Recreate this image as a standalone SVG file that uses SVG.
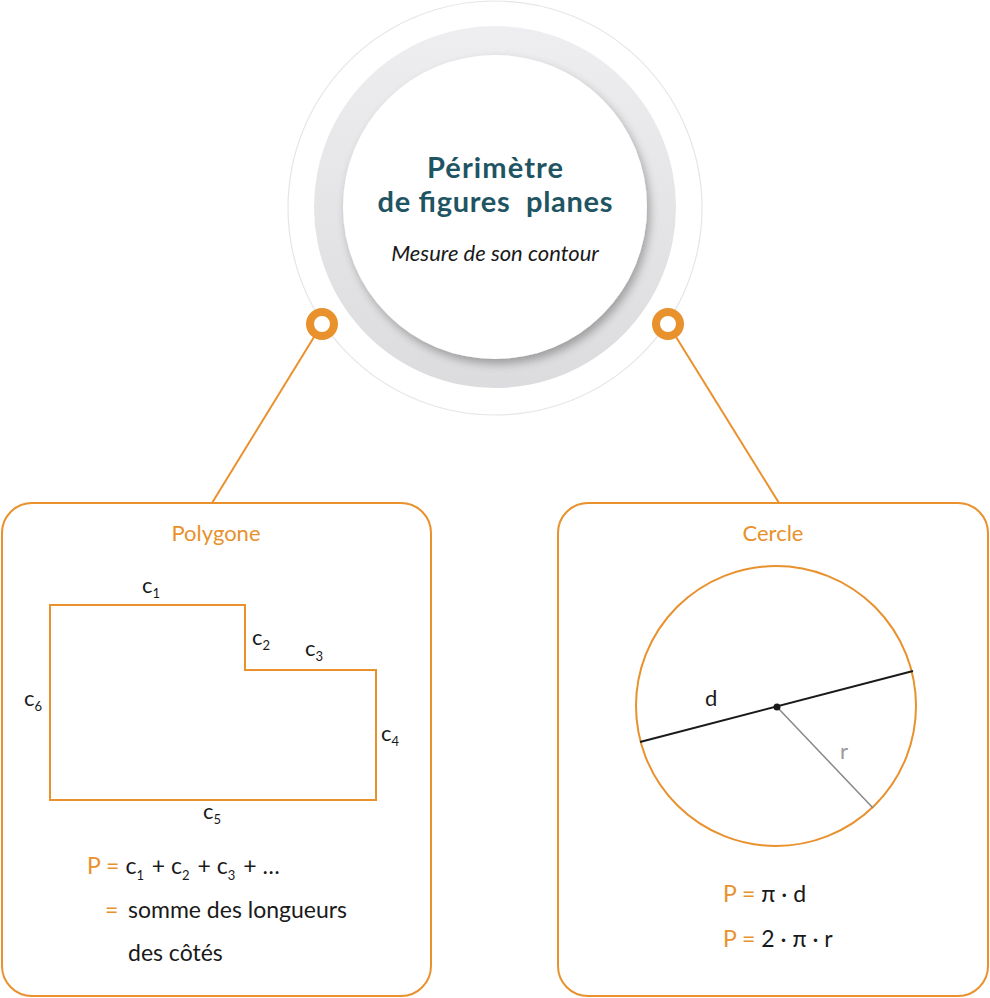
<svg xmlns="http://www.w3.org/2000/svg" width="990" height="998" viewBox="0 0 990 998">
<style>
.or{fill:#e8912d}
.k{fill:#1a1a1a}
.t{font-family:Lato,"Open Sans",sans-serif}
.lbl{font-size:22px}
.sub{font-size:13px}
.frm{font-size:23px}
.box{fill:#fff;stroke:#e8912d;stroke-width:2}
.con{stroke:#e8912d;stroke-width:2;fill:none}
</style>
<defs>
<linearGradient id="ring" x1="0" y1="0" x2="0" y2="1">
<stop offset="0" stop-color="#eeeef0"/>
<stop offset="1" stop-color="#dcdcde"/>
</linearGradient>
<filter id="sh" x="-20%" y="-20%" width="140%" height="140%">
<feGaussianBlur in="SourceAlpha" stdDeviation="5"/>
<feOffset dx="3" dy="5"/>
<feComponentTransfer><feFuncA type="linear" slope="0.3"/></feComponentTransfer>
<feMerge><feMergeNode/><feMergeNode in="SourceGraphic"/></feMerge>
</filter>
</defs>
<rect width="990" height="998" fill="#fff"/>
<g id="connectors">
<line class="con" x1="322" y1="324" x2="212" y2="503"/>
<line class="con" x1="668" y1="324" x2="779" y2="503"/>
</g>
<g id="center">
<circle cx="495" cy="208" r="207" fill="#fff" stroke="#e6e6e6" stroke-width="1.2"/>
<circle cx="495" cy="207" r="181" fill="url(#ring)"/>
<circle cx="495" cy="207" r="152" fill="#fff" filter="url(#sh)"/>
<text class="t" x="495" y="178" text-anchor="middle" font-size="29" font-weight="bold" fill="#1f5563" textLength="136">Périmètre</text>
<text class="t" x="495" y="212" text-anchor="middle" font-size="29" font-weight="bold" fill="#1f5563" style="white-space:pre" textLength="235">de figures  planes</text>
<text class="t" x="495" y="261" text-anchor="middle" font-size="22" font-style="italic" fill="#1a1a1a">Mesure de son contour</text>
<circle cx="322" cy="324" r="12" fill="#fff" stroke="#e8912d" stroke-width="8"/>
<circle cx="668" cy="324" r="12" fill="#fff" stroke="#e8912d" stroke-width="8"/>
</g>
<g id="polygone">
<rect class="box" x="2" y="503" width="429" height="493" rx="30"/>
<text class="t or lbl" x="216" y="541" text-anchor="middle">Polygone</text>
<polygon points="50,605 245,605 245,670 376,670 376,800 50,800" fill="none" stroke="#e8912d" stroke-width="2"/>
<text class="t k lbl" x="142" y="593">c<tspan class="sub" dy="5">1</tspan></text>
<text class="t k lbl" x="252" y="645">c<tspan class="sub" dy="5">2</tspan></text>
<text class="t k lbl" x="305" y="656">c<tspan class="sub" dy="5">3</tspan></text>
<text class="t k lbl" x="24" y="706">c<tspan class="sub" dy="5">6</tspan></text>
<text class="t k lbl" x="381" y="741">c<tspan class="sub" dy="5">4</tspan></text>
<text class="t k lbl" x="203" y="819">c<tspan class="sub" dy="5">5</tspan></text>
<text class="t frm" x="87" y="874" style="white-space:pre"><tspan class="or">P =</tspan><tspan class="k" dx="6">c</tspan><tspan class="k sub" dy="6">1</tspan><tspan class="k" dy="-6" dx="2"> + c</tspan><tspan class="k sub" dy="6">2</tspan><tspan class="k" dy="-6" dx="2"> + c</tspan><tspan class="k sub" dy="6">3</tspan><tspan class="k" dy="-6" dx="2"> + …</tspan></text>
<text class="t frm or" x="105" y="918">=</text>
<text class="t frm k" x="128" y="918">somme des longueurs</text>
<text class="t frm k" x="128" y="961">des côtés</text>
</g>
<g id="cercle">
<rect class="box" x="558" y="503" width="430" height="493" rx="30"/>
<text class="t or lbl" x="773" y="541" text-anchor="middle">Cercle</text>
<circle cx="776" cy="706" r="140" fill="none" stroke="#e8912d" stroke-width="2"/>
<line x1="640" y1="742" x2="913" y2="671" stroke="#1a1a1a" stroke-width="2"/>
<line x1="777" y1="707" x2="873" y2="808" stroke="#888" stroke-width="1.5"/>
<circle cx="777" cy="707" r="3.5" fill="#1a1a1a"/>
<text class="t k lbl" x="705" y="706">d</text>
<text class="t lbl" x="840" y="759" fill="#999">r</text>
<text class="t frm" x="723" y="902" style="white-space:pre"><tspan class="or">P =</tspan><tspan class="k"> π · d</tspan></text>
<text class="t frm" x="723" y="947" style="white-space:pre"><tspan class="or">P =</tspan><tspan class="k"> 2 · π · r</tspan></text>
</g>
</svg>
